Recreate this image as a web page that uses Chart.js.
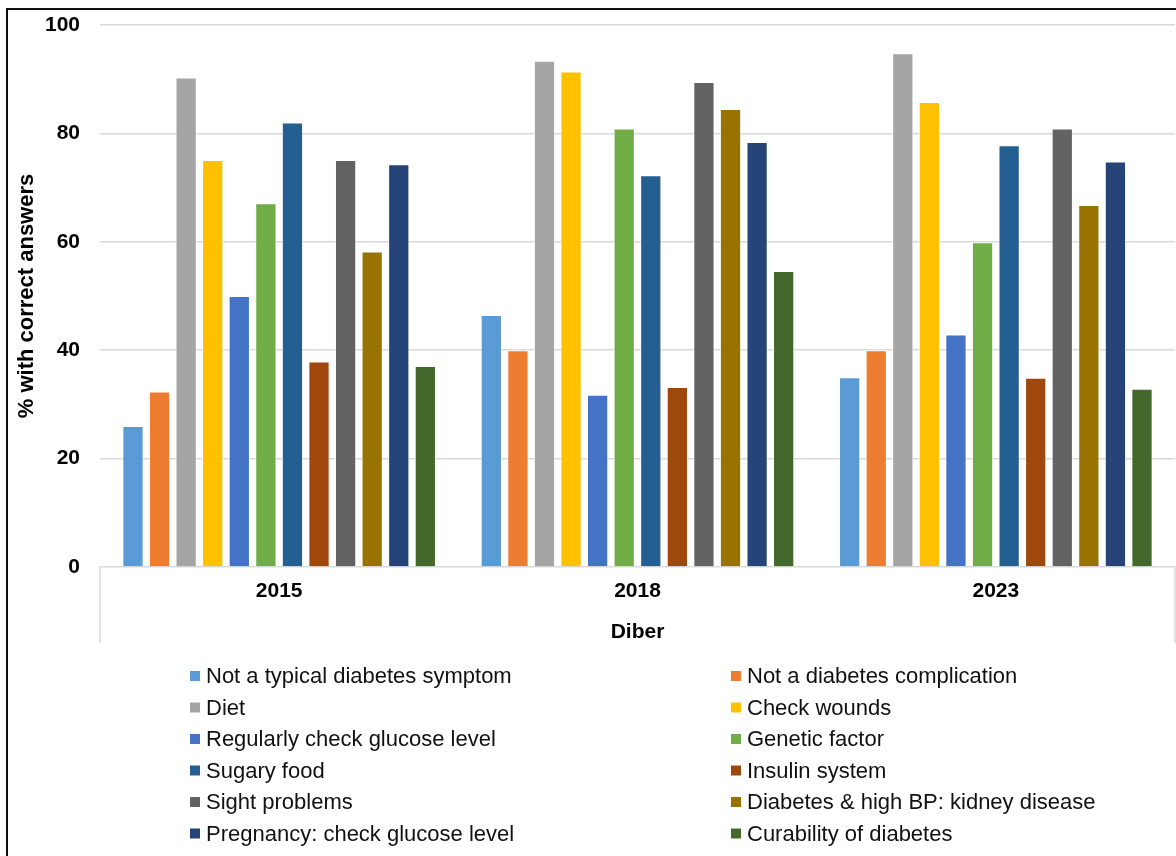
<!DOCTYPE html>
<html>
<head>
<meta charset="utf-8">
<title>Diabetes knowledge – Diber</title>
<script src="https://cdn.jsdelivr.net/npm/chart.js@4.4.1/dist/chart.umd.min.js"></script>
<style>
  html, body { margin: 0; padding: 0; background: #fff; overflow: hidden; }
  #wrap { position: relative; width: 1176px; height: 856px; }
  #frame {
    position: absolute; left: 6px; top: 8px; width: 1300px; height: 1000px;
    border-left: 2px solid #111; border-top: 2px solid #111; pointer-events: none;
  }
  canvas { position: absolute; left: 0; top: 0; }
</style>
</head>
<body>
<div id="wrap">
  <canvas id="chart" width="1176" height="856"></canvas>
  <div id="frame"></div>
</div>
<script>
// Survey years (district: Diber)
const years = ['2015', '2018', '2023'];

// Share of respondents answering each question correctly, per year
const notTypicalSymptom   = [26.0, 46.5, 35.0];
const notComplication     = [32.4, 40.0, 40.0];
const diet                = [90.3, 93.4, 94.8];
const checkWounds         = [75.1, 91.4, 85.8];
const regularGlucose      = [50.0, 31.8, 42.9];
const geneticFactor       = [67.1, 80.9, 59.9];
const sugaryFood          = [82.0, 72.3, 77.8];
const insulinSystem       = [37.9, 33.2, 34.9];
const sightProblems       = [75.1, 89.5, 80.9];
const diabetesHighBP      = [58.2, 84.5, 66.8];
const pregnancyGlucose    = [74.3, 78.4, 74.8];
const curability          = [37.1, 54.6, 32.9];

const seriesNames = [
  'Not a typical diabetes symptom',
  'Not a diabetes complication',
  'Diet',
  'Check wounds',
  'Regularly check glucose level',
  'Genetic factor',
  'Sugary food',
  'Insulin system',
  'Sight problems',
  'Diabetes & high BP: kidney disease',
  'Pregnancy: check glucose level',
  'Curability of diabetes'
];
const seriesValues = [
  notTypicalSymptom, notComplication, diet, checkWounds, regularGlucose, geneticFactor,
  sugaryFood, insulinSystem, sightProblems, diabetesHighBP, pregnancyGlucose, curability
];

// Office-style palette
const palette = [
  '#5B9BD5', '#ED7D31', '#A5A5A5', '#FFC000', '#4472C4', '#70AD47',
  '#255E91', '#9E480E', '#636363', '#997300', '#264478', '#43682B'
];

const FONT = '"Liberation Sans", Arial, Helvetica, sans-serif';
const GRID = '#d9d9d9';

// Frame lines of the category axis box (left/right edges below the plot)
const axisBoxPlugin = {
  id: 'axisBox',
  beforeDatasetsDraw(chart) {
    const { ctx, chartArea } = chart;
    const x = chart.scales.x;
    ctx.save();
    ctx.strokeStyle = GRID;
    ctx.lineWidth = 1.5;
    ctx.beginPath();
    ctx.moveTo(chartArea.left, chartArea.bottom);
    ctx.lineTo(chartArea.left, x.bottom);
    ctx.moveTo(chartArea.right, chartArea.bottom);
    ctx.lineTo(chartArea.right, x.bottom);
    ctx.stroke();
    ctx.restore();
  }
};

// Two-column legend under the axis
const gridLegendPlugin = {
  id: 'gridLegend',
  afterDraw(chart) {
    const { ctx } = chart;
    const top = chart.scales.x.bottom + 33;
    const colX = [190, 731];
    const rowH = 31.5;
    const box = 10;
    ctx.save();
    ctx.font = '22px ' + FONT;
    ctx.textBaseline = 'middle';
    ctx.textAlign = 'left';
    chart.data.datasets.forEach((ds, i) => {
      const cx = colX[i % 2];
      const cy = top + Math.floor(i / 2) * rowH;
      ctx.fillStyle = ds.backgroundColor;
      ctx.fillRect(cx, cy - box / 2, box, box);
      ctx.fillStyle = '#111';
      ctx.fillText(ds.label, cx + 16, cy + 1);
    });
    ctx.restore();
  }
};

new Chart(document.getElementById('chart'), {
  type: 'bar',
  data: {
    labels: years,
    datasets: seriesNames.map((name, i) => ({
      label: name,
      data: seriesValues[i],
      backgroundColor: palette[i],
      borderColor: 'rgba(255,255,255,0.75)',
      borderWidth: 1,
      categoryPercentage: 0.89,
      barPercentage: 0.8
    }))
  },
  options: {
    responsive: false,
    devicePixelRatio: 1,
    animation: false,
    layout: { padding: { top: 25, right: 1, bottom: 213, left: 0 } },
    plugins: {
      legend: { display: false },
      tooltip: { enabled: false }
    },
    scales: {
      x: {
        grid: { display: false, drawTicks: false },
        border: { display: false },
        ticks: {
          color: '#000',
          padding: 13.5,
          font: { family: FONT, size: 21, weight: 'bold', lineHeight: 1 }
        },
        title: {
          display: true,
          text: 'Diber',
          color: '#000',
          padding: { top: 0, bottom: 0 },
          font: { family: FONT, size: 21, weight: 'bold', lineHeight: 1 }
        },
        afterFit(scale) { scale.height = 76; }
      },
      y: {
        min: 0,
        max: 100,
        ticks: {
          stepSize: 20,
          color: '#000',
          padding: 20,
          font: { family: FONT, size: 21, weight: 'bold', lineHeight: 1 }
        },
        grid: { color: GRID, lineWidth: 1.5, drawTicks: false },
        border: { display: false },
        title: {
          display: true,
          text: '% with correct answers',
          color: '#000',
          padding: { top: 16, bottom: 0 },
          font: { family: FONT, size: 22, weight: 'bold', lineHeight: 1 }
        },
        afterFit(scale) {
          scale.width = 100;
          scale.paddingTop = 0;
          scale.paddingBottom = 0;
        }
      }
    }
  },
  plugins: [axisBoxPlugin, gridLegendPlugin]
});
</script>
</body>
</html>
